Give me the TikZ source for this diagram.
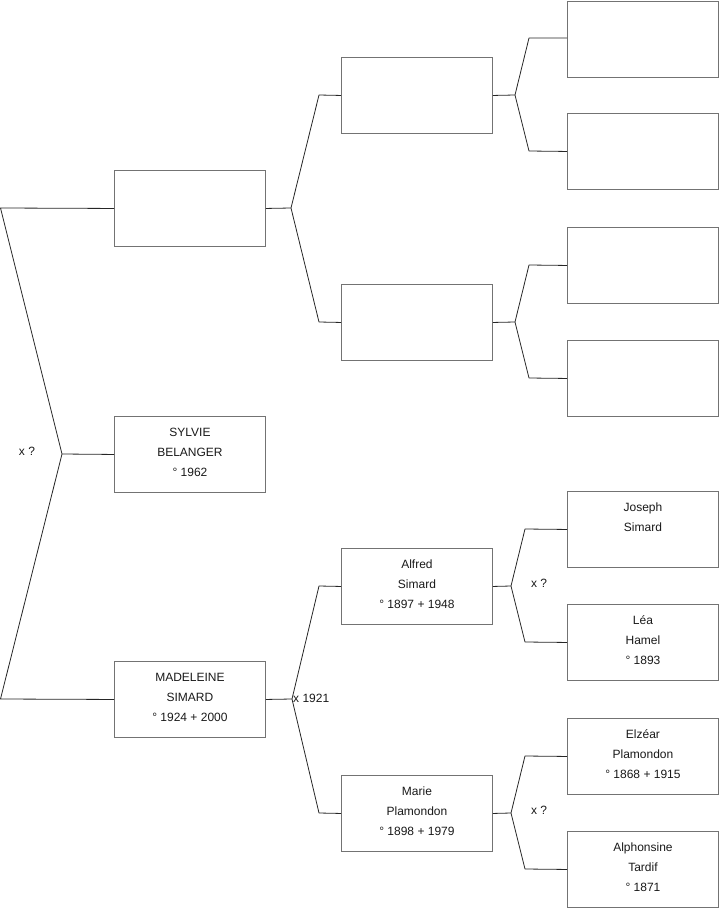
\documentclass[tikz,border=0pt]{standalone}
\usepackage{fontspec}
\setmainfont{Liberation Sans}
\begin{document}
\begin{tikzpicture}[x=1pt,y=-1pt,
  pbox/.style={draw=black!55, line width=0.9pt, minimum width=151pt, minimum height=76pt, inner sep=0pt, anchor=north west},
  ptext/.style={anchor=north, inner sep=0pt, align=center, font=\fontsize{12}{20}\selectfont, text=black!90},
  conn/.style={draw=black!85, line width=0.8pt, line join=round},
  lbl/.style={inner sep=0pt, font=\fontsize{12}{14}\selectfont, text=black!90}]
\useasboundingbox (0,0) rectangle (719,908);
% generation 1
\node[pbox] (g1a) at (114,170) {};
\node[pbox] (g1b) at (114,416) {};
\node[pbox] (g1c) at (114,661) {};
% generation 2
\node[pbox] (g2a) at (341,57) {};
\node[pbox] (g2b) at (341,284) {};
\node[pbox] (g2c) at (341,548) {};
\node[pbox] (g2d) at (341,775) {};
% generation 3
\node[pbox] (g3a) at (567,0.5) {};
\node[pbox] (g3b) at (567,113) {};
\node[pbox] (g3c) at (567,227) {};
\node[pbox] (g3d) at (567,340) {};
\node[pbox] (g3e) at (567,491) {};
\node[pbox] (g3f) at (567,604) {};
\node[pbox] (g3g) at (567,718) {};
\node[pbox] (g3h) at (567,831) {};
% texts
\node[ptext] (t1b) at ([yshift=-6.3pt]g1b.north) {\strut SYLVIE\\BELANGER\\° 1962};
\node[ptext] (t1c) at ([yshift=-6.3pt]g1c.north) {\strut MADELEINE\\SIMARD\\° 1924 + 2000};
\node[ptext] (t2c) at ([yshift=-6.3pt]g2c.north) {\strut Alfred\\Simard\\° 1897 + 1948};
\node[ptext] (t2d) at ([yshift=-6.3pt]g2d.north) {\strut Marie\\Plamondon\\° 1898 + 1979};
\node[ptext] (t3e) at ([yshift=-6.3pt]g3e.north) {\strut Joseph\\Simard};
\node[ptext] (t3f) at ([yshift=-6.3pt]g3f.north) {\strut Léa\\Hamel\\° 1893};
\node[ptext] (t3g) at ([yshift=-6.3pt]g3g.north) {\strut Elzéar\\Plamondon\\° 1868 + 1915};
\node[ptext] (t3h) at ([yshift=-6.3pt]g3h.north) {\strut Alphonsine\\Tardif\\° 1871};
% coordinates for connectors
\coordinate (l0a) at (0.5,208);
\coordinate (l0c) at (0.5,699);
\coordinate (f0) at (62,454);
\coordinate (fa) at (291,208);
\coordinate (fc) at (292,699);
\coordinate (fa1) at (319,95);
\coordinate (fa2) at (319,322);
\coordinate (fc1) at (319,586);
\coordinate (fc2) at (319,813);
\coordinate (h1) at (515,95);
\coordinate (h1a) at (529,38);
\coordinate (h1b) at (529,151);
\coordinate (h2) at (515,322);
\coordinate (h2a) at (529,265);
\coordinate (h2b) at (529,378);
\coordinate (h3) at (511,586);
\coordinate (h3a) at (525,529);
\coordinate (h3b) at (525,642);
\coordinate (h4) at (511,813);
\coordinate (h4a) at (525,756);
\coordinate (h4b) at (525,869);
% connectors
\draw[conn] (g1a.west) -- (l0a) -- (f0) -- (l0c) -- (g1c.west);
\draw[conn] (f0) -- (g1b.west);
\draw[conn] (g1a.east) -- (fa);
\draw[conn] (g2a.west) -- (fa1) -- (fa) -- (fa2) -- (g2b.west);
\draw[conn] (g1c.east) -- (fc);
\draw[conn] (g2c.west) -- (fc1) -- (fc) -- (fc2) -- (g2d.west);
\draw[conn] (g2a.east) -- (h1);
\draw[conn] (g3a.west |- h1a) -- (h1a) -- (h1) -- (h1b) -- (g3b.west);
\draw[conn] (g2b.east) -- (h2);
\draw[conn] (g3c.west) -- (h2a) -- (h2) -- (h2b) -- (g3d.west);
\draw[conn] (g2c.east) -- (h3);
\draw[conn] (g3e.west) -- (h3a) -- (h3) -- (h3b) -- (g3f.west);
\draw[conn] (g2d.east) -- (h4);
\draw[conn] (g3g.west) -- (h4a) -- (h4) -- (h4b) -- (g3h.west);
% labels
\node[lbl] (m0) at (27,451) {x ?};
\node[lbl, anchor=west] (m1) at (293,698) {x 1921};
\node[lbl] (m2) at (539,583) {x ?};
\node[lbl] (m3) at (539,810) {x ?};
\end{tikzpicture}
\end{document}
